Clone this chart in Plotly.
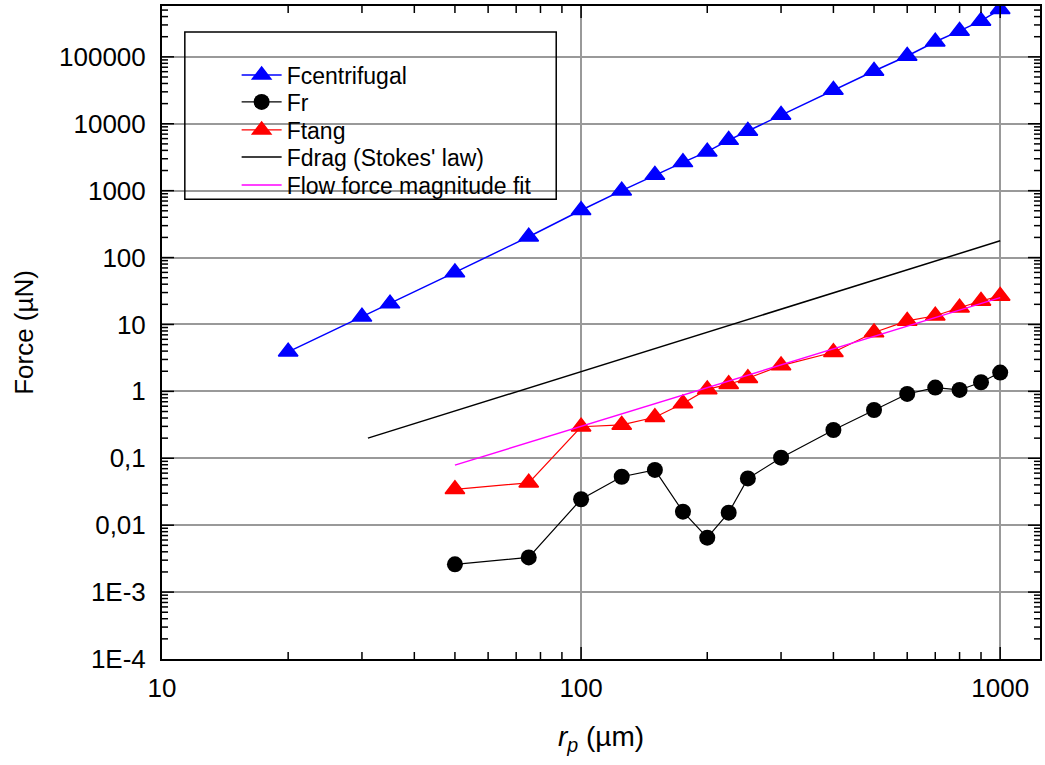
import plotly.graph_objects as go

# ---- data ----
r_cent = [20, 30, 35, 50, 75, 100, 125, 150, 175, 200, 225, 250, 300, 400, 500, 600, 700, 800, 900, 1000]
F_cent = [3.9, 13, 20.5, 60, 205, 510, 1000, 1720, 2650, 3830, 5700, 7800, 13500, 32000,
          61500, 103000, 168000, 244000, 344000, 514000]

r_pts = [50, 75, 100, 125, 150, 175, 200, 225, 250, 300, 400, 500, 600, 700, 800, 900, 1000]
F_r = [0.0026, 0.0033, 0.0244, 0.053, 0.067, 0.0159, 0.0065, 0.0154, 0.050, 0.102, 0.265,
       0.527, 0.915, 1.14, 1.05, 1.37, 1.91]
F_tang = [0.0344, 0.043, 0.296, 0.315, 0.41, 0.66, 1.07, 1.28, 1.57, 2.43, 3.84, 7.6, 11.3,
          13.5, 17.8, 22.4, 26.7]

r_drag = [31, 1000]
F_drag = [0.2, 178]

r_fit = [50, 1000]
F_fit = [0.079, 25.2]

y_tickvals = [1e-4, 1e-3, 1e-2, 1e-1, 1, 10, 100, 1000, 10000, 100000]
y_ticktext = ["1E-4", "1E-3", "0,01", "0,1", "1", "10", "100", "1000", "10000", "100000"]
x_tickvals = [10, 100, 1000]
x_ticktext = ["10", "100", "1000"]

FONT = "Arial, Liberation Sans, sans-serif"
X_RANGE = [1, 3.095]
Y_RANGE = [-4, 5.76]

x_lo, x_hi = 10 ** X_RANGE[0], 10 ** X_RANGE[1]
y_lo, y_hi = 10 ** Y_RANGE[0], 10 ** Y_RANGE[1]

# minor tick positions (2..9 per decade) inside the axis ranges
x_minor = [m * d for d in x_tickvals for m in range(2, 10) if x_lo < m * d < x_hi]
y_minor = [m * d for d in y_tickvals for m in range(2, 10) if y_lo < m * d < y_hi]
x_major_in = [v for v in x_tickvals if x_lo < v < x_hi]
y_major_in = [v for v in y_tickvals if y_lo < v < y_hi]

TICK = dict(color="black", width=1.5)


def x_ticks(vals, length):
    """Inside tick marks on bottom and top edges, positioned through the x axis."""
    out = []
    for v in vals:
        for anchor, sign in ((0, 1), (1, -1)):
            out.append(dict(type="line", xref="x", x0=v, x1=v,
                            yref="paper", ysizemode="pixel", yanchor=anchor,
                            y0=0, y1=sign * length, line=TICK, layer="above"))
    return out


def y_ticks(vals, length):
    """Inside tick marks on left and right edges, positioned through the y axis."""
    out = []
    for v in vals:
        for anchor, sign in ((0, 1), (1, -1)):
            out.append(dict(type="line", yref="y", y0=v, y1=v,
                            xref="paper", xsizemode="pixel", xanchor=anchor,
                            x0=0, x1=sign * length, line=TICK, layer="above"))
    return out


tick_shapes = (x_ticks(x_minor, 7) + x_ticks(x_major_in, 12)
               + y_ticks(y_minor, 6) + y_ticks(y_major_in, 12))

fig = go.Figure()
fig.add_trace(go.Scatter(x=r_cent, y=F_cent, name="Fcentrifugal", mode="lines+markers",
                         line=dict(color="#0000ff", width=1.5), legend="legend",
                         marker=dict(symbol="triangle-up", size=17, color="#0000ff",
                                     line=dict(color="#0000ff", width=1.5))))
fig.add_trace(go.Scatter(x=r_pts, y=F_r, name="Fr", mode="lines+markers",
                         line=dict(color="black", width=1.2), legend="legend2",
                         marker=dict(symbol="circle", size=16, color="black")))
fig.add_trace(go.Scatter(x=r_pts, y=F_tang, name="Ftang", mode="lines+markers",
                         line=dict(color="#ff0000", width=1.2), legend="legend3",
                         marker=dict(symbol="triangle-up", size=17, color="#ff0000",
                                     line=dict(color="#ff0000", width=1.5))))
fig.add_trace(go.Scatter(x=r_drag, y=F_drag, name="Fdrag (Stokes' law)", mode="lines",
                         line=dict(color="black", width=1.5), legend="legend4"))
fig.add_trace(go.Scatter(x=r_fit, y=F_fit, name="Flow force magnitude fit", mode="lines",
                         line=dict(color="#ff00ff", width=1.5), legend="legend5"))

legend_y = [0.8943, 0.8530, 0.8101, 0.7688, 0.7259]
legend_common = dict(x=0.085, xanchor="left", yanchor="middle",
                     bgcolor="rgba(0,0,0,0)", borderwidth=0,
                     font=dict(family=FONT, size=23, color="black"), itemwidth=40)
legends = {}
for i, yy in enumerate(legend_y):
    key = "legend" if i == 0 else f"legend{i + 1}"
    legends[key] = dict(legend_common, y=yy)

legend_box = dict(type="rect", xref="paper", yref="paper",
                  x0=0.026, x1=0.449, y0=0.704, y1=0.960,
                  line=dict(color="black", width=1.5), fillcolor="rgba(0,0,0,0)")

fig.update_layout(
    width=1045, height=765,
    margin=dict(l=162, r=3, t=6, b=106),
    paper_bgcolor="white", plot_bgcolor="white",
    font=dict(family=FONT, color="black", size=22),
    showlegend=True,
    shapes=[legend_box] + tick_shapes,
    **legends,
)

fig.update_layout(
    xaxis=dict(
        type="log", range=X_RANGE,
        tickmode="array", tickvals=x_tickvals, ticktext=x_ticktext,
        ticks="", showline=True, linecolor="black", linewidth=2, mirror=True,
        showgrid=True, gridcolor="#999999", gridwidth=1.5, zeroline=False,
        tickfont=dict(family=FONT, size=26, color="black"), ticklabelstandoff=5,
        title=dict(text="<i>r<sub>p</sub></i> (µm)", font=dict(family=FONT, size=28), standoff=24),
    ),
    yaxis=dict(
        type="log", range=Y_RANGE,
        tickmode="array", tickvals=y_tickvals, ticktext=y_ticktext,
        ticks="", showline=True, linecolor="black", linewidth=2, mirror=True,
        showgrid=True, gridcolor="#999999", gridwidth=1.5, zeroline=False,
        tickfont=dict(family=FONT, size=26, color="black"), ticklabelstandoff=9,
        title=dict(text="Force (µN)", font=dict(family=FONT, size=26), standoff=18),
    ),
)

fig.write_html("out.html")
